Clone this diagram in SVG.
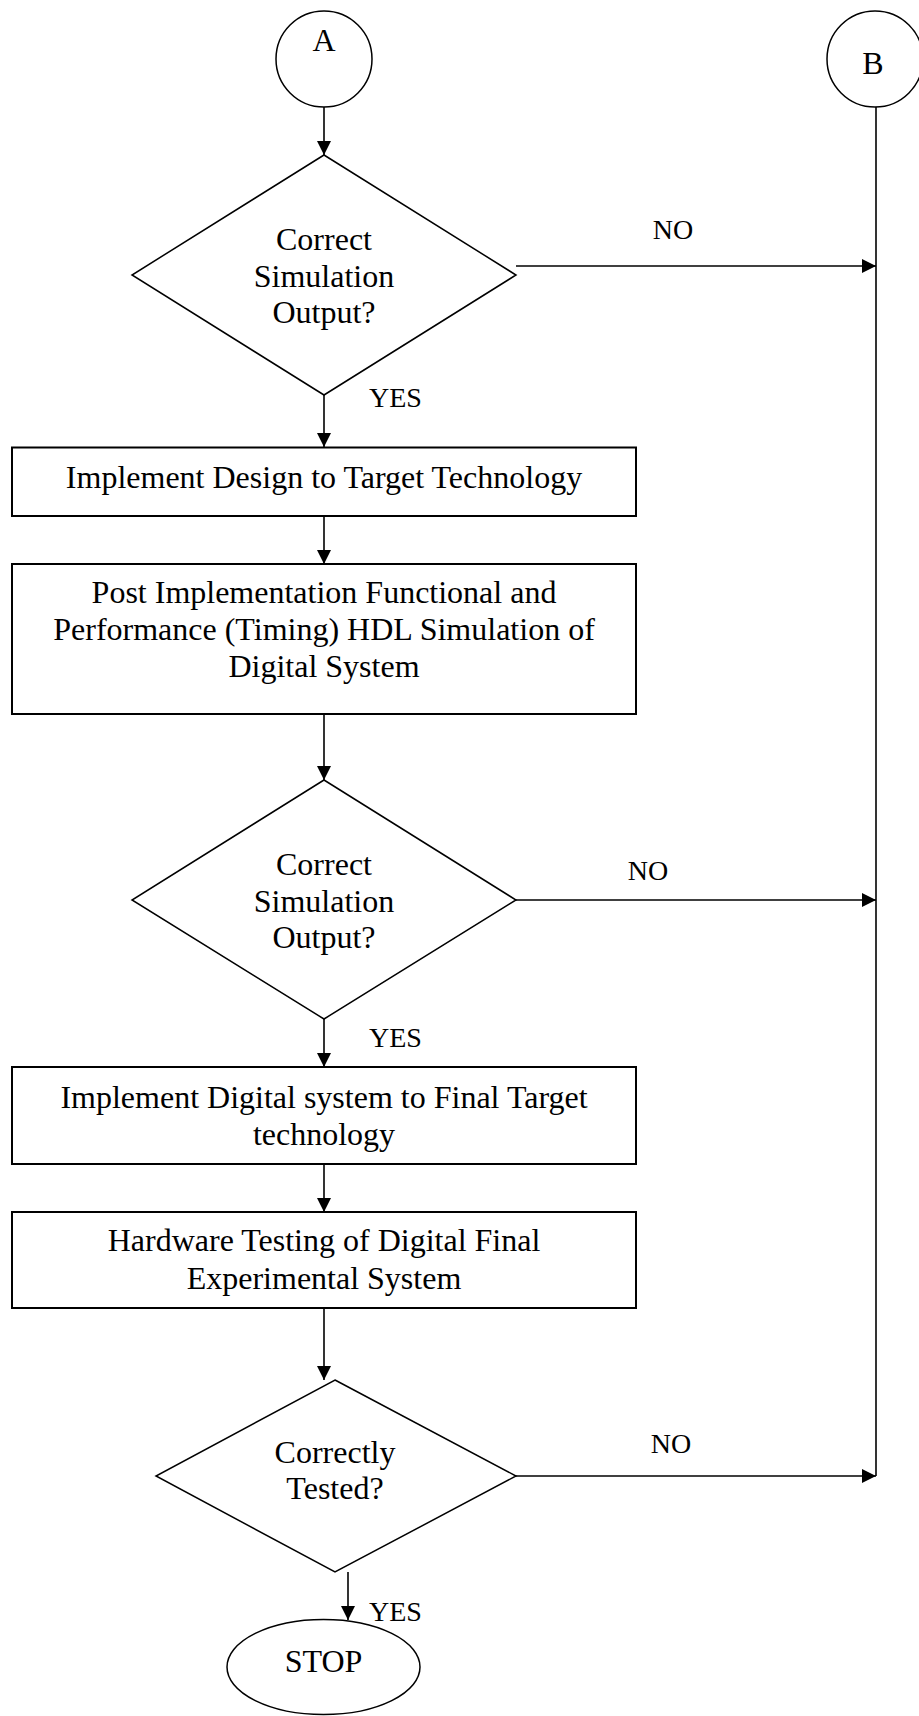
<svg xmlns="http://www.w3.org/2000/svg" width="919" height="1716" viewBox="0 0 919 1716">
<style>
.s{fill:#fff;stroke:#000;stroke-width:1.5}
.r{fill:#fff;stroke:#000;stroke-width:2}
.t{font-family:"Liberation Serif","Times New Roman",serif;font-size:32px;fill:#000;text-anchor:middle}
.l{font-family:"Liberation Serif","Times New Roman",serif;font-size:28px;fill:#000}
.c{fill:none;stroke:#000;stroke-width:1.6}
</style>
<defs>
<marker id="ah" markerUnits="userSpaceOnUse" markerWidth="15" markerHeight="15" refX="14" refY="7" orient="auto" viewBox="0 0 15 15">
<path d="M0,0 L14,7 L0,14 Z" fill="#000"/>
</marker>
</defs>
<g id="connectors">
<line class="c" x1="324" y1="107" x2="324" y2="155" marker-end="url(#ah)"/>
<line class="c" x1="324" y1="395" x2="324" y2="447" marker-end="url(#ah)"/>
<line class="c" x1="324" y1="516" x2="324" y2="564" marker-end="url(#ah)"/>
<line class="c" x1="324" y1="707" x2="324" y2="780" marker-end="url(#ah)"/>
<line class="c" x1="324" y1="1019" x2="324" y2="1067" marker-end="url(#ah)"/>
<line class="c" x1="324" y1="1164" x2="324" y2="1212" marker-end="url(#ah)"/>
<line class="c" x1="324" y1="1308" x2="324" y2="1380" marker-end="url(#ah)"/>
<line class="c" x1="348" y1="1572" x2="348" y2="1620" marker-end="url(#ah)"/>
<line class="c" x1="516" y1="266" x2="876" y2="266" marker-end="url(#ah)"/>
<line class="c" x1="516" y1="900" x2="876" y2="900" marker-end="url(#ah)"/>
<line class="c" x1="516" y1="1476" x2="876" y2="1476" marker-end="url(#ah)"/>
<line class="c" x1="876" y1="107" x2="876" y2="1476"/>
<text class="l" x="673" y="239" text-anchor="middle">NO</text>
<text class="l" x="648" y="880" text-anchor="middle">NO</text>
<text class="l" x="671" y="1453" text-anchor="middle">NO</text>
<text class="l" x="369" y="407">YES</text>
<text class="l" x="369" y="1047">YES</text>
<text class="l" x="369" y="1621">YES</text>
</g>
<g id="nodeA">
<ellipse class="s" cx="324" cy="59" rx="48" ry="48"/>
<text class="t" x="324" y="51">A</text>
</g>
<g id="nodeB">
<ellipse class="s" cx="875" cy="59" rx="48" ry="48"/>
<text class="t" x="873" y="74">B</text>
</g>
<g id="decision1">
<polygon class="s" points="324,155 516,275 324,395 132,275"/>
<text class="t" x="324" y="250">Correct</text>
<text class="t" x="324" y="287">Simulation</text>
<text class="t" x="324" y="323">Output?</text>
</g>
<g id="implement">
<rect class="r" x="12" y="447.5" width="624" height="68.5"/>
<text class="t" x="324" y="488">Implement Design to Target Technology</text>
</g>
<g id="postsim">
<rect class="r" x="12" y="564" width="624" height="150"/>
<text class="t" x="324" y="603">Post Implementation Functional and</text>
<text class="t" x="324" y="640">Performance (Timing) HDL Simulation of</text>
<text class="t" x="324" y="677">Digital System</text>
</g>
<g id="decision2">
<polygon class="s" points="324,780 516,900 324,1019 132,900"/>
<text class="t" x="324" y="875">Correct</text>
<text class="t" x="324" y="912">Simulation</text>
<text class="t" x="324" y="948">Output?</text>
</g>
<g id="final">
<rect class="r" x="12" y="1067" width="624" height="97"/>
<text class="t" x="324" y="1108">Implement Digital system to Final Target</text>
<text class="t" x="324" y="1145">technology</text>
</g>
<g id="hwtest">
<rect class="r" x="12" y="1212" width="624" height="96"/>
<text class="t" x="324" y="1251">Hardware Testing of Digital Final</text>
<text class="t" x="324" y="1289">Experimental System</text>
</g>
<g id="decision3">
<polygon class="s" points="335,1380 516,1476 335,1572 156,1476"/>
<text class="t" x="335" y="1463">Correctly</text>
<text class="t" x="335" y="1499">Tested?</text>
</g>
<g id="stop">
<ellipse class="s" cx="323.5" cy="1667" rx="96.5" ry="47.5"/>
<text class="t" x="323.5" y="1672">STOP</text>
</g>
</svg>
